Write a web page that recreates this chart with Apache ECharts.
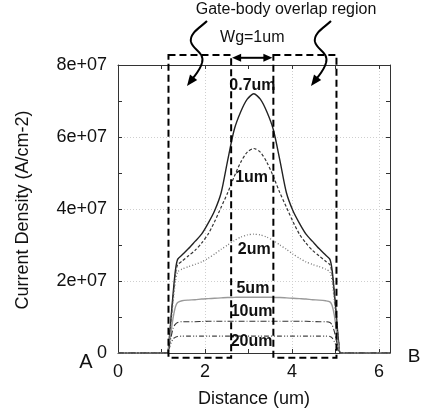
<!DOCTYPE html>
<html>
<head>
<meta charset="utf-8">
<script src="https://cdn.jsdelivr.net/npm/echarts@6/dist/echarts.min.js"></script>
<style>
  html, body { margin: 0; padding: 0; background: #fff; }
  #chart { width: 423px; height: 416px; }
</style>
</head>
<body>
<div id="chart"></div>
<script>
// distance along the channel (um)
const distance = [0, 1.12, 1.17, 1.22, 1.27, 1.32, 1.37, 1.47, 1.62, 1.77, 1.92, 2.07, 2.22, 2.37, 2.52, 2.67, 2.82, 2.97,
  3.12, 3.27, 3.42, 3.57, 3.72, 3.87, 4.02, 4.17, 4.32, 4.47, 4.62, 4.77, 4.87, 4.92, 4.97, 5.02, 5.07, 5.12, 6.25];

// current density, in units of 1e7 A/cm-2
const j07 = [0, 0, 0.3, 1.0, 1.7, 2.3, 2.6, 2.72, 2.9, 3.1, 3.3, 3.6, 3.95, 4.45, 5.35, 6.2, 6.7, 7.05,
  7.2, 7.05, 6.7, 6.2, 5.35, 4.45, 3.95, 3.6, 3.3, 3.1, 2.9, 2.72, 2.6, 2.3, 1.7, 1.0, 0.3, 0, 0];
const j1 = [0, 0, 0.3, 0.95, 1.6, 2.2, 2.45, 2.55, 2.7, 2.85, 3.05, 3.3, 3.65, 4.05, 4.45, 4.9, 5.3, 5.58,
  5.68, 5.58, 5.3, 4.9, 4.45, 4.05, 3.65, 3.3, 3.05, 2.85, 2.7, 2.55, 2.45, 2.2, 1.6, 0.95, 0.3, 0, 0];
const j2 = [0, 0, 0.2, 0.8, 1.45, 2.0, 2.25, 2.33, 2.4, 2.46, 2.53, 2.63, 2.75, 2.88, 3.0, 3.12, 3.22, 3.28,
  3.3, 3.28, 3.22, 3.12, 3.0, 2.88, 2.75, 2.63, 2.53, 2.46, 2.4, 2.33, 2.25, 2.0, 1.45, 0.8, 0.2, 0, 0];
const j5 = [0, 0, 0.2, 0.6, 1.0, 1.28, 1.4, 1.45, 1.47, 1.48, 1.5, 1.51, 1.52, 1.53, 1.54, 1.545, 1.55, 1.55,
  1.55, 1.55, 1.55, 1.545, 1.54, 1.53, 1.52, 1.51, 1.5, 1.48, 1.47, 1.45, 1.42, 1.32, 1.05, 0.6, 0.15, 0, 0];
const j10 = [0, 0, 0.15, 0.45, 0.7, 0.8, 0.85, 0.87, 0.87, 0.87, 0.875, 0.88, 0.88, 0.88, 0.88, 0.88, 0.88, 0.88,
  0.88, 0.88, 0.88, 0.88, 0.88, 0.88, 0.88, 0.88, 0.88, 0.875, 0.87, 0.87, 0.85, 0.78, 0.6, 0.33, 0.08, 0, 0];
const j20 = [0, 0, 0.1, 0.28, 0.4, 0.44, 0.46, 0.47, 0.47, 0.47, 0.47, 0.47, 0.47, 0.47, 0.47, 0.47, 0.47, 0.47,
  0.47, 0.47, 0.47, 0.47, 0.47, 0.47, 0.47, 0.47, 0.47, 0.47, 0.47, 0.47, 0.46, 0.42, 0.32, 0.18, 0.05, 0, 0];
const unit = 1e7;

const curveNames = ['0.7um', '1um', '2um', '5um', '10um', '20um'];
const curveValues = [j07, j1, j2, j5, j10, j20];
const curveStyles = [
  { color: '#222', width: 1.4, type: 'solid' },
  { color: '#333', width: 1.2, type: [3, 2] },
  { color: '#777', width: 1.3, type: [1, 2] },
  { color: '#9a9a9a', width: 1.4, type: 'solid' },
  { color: '#333', width: 1.1, type: [6, 2, 1, 2] },
  { color: '#444', width: 1.1, type: [5, 2, 1, 2, 1, 2] }
];

// curve label positions (distance, 1e7 A/cm-2)
const labelX = [3.09, 3.07, 3.13, 3.1, 3.07, 3.07];
const labelY = [7.44, 4.86, 2.86, 1.8, 1.15, 0.31];

// gate-body overlap boxes (distance) and box height limits (1e7 A/cm-2)
const overlapLeft = [1.16, 2.6];
const overlapRight = [3.57, 5.02];
const boxTop = 8.28;
const boxBottom = -0.13;
const arrowY = 8.2;

const font = "'Liberation Sans', Arial, sans-serif";
const chart = echarts.init(document.getElementById('chart'));

const xBase = { type: 'value', min: 0, max: 6.25 };
const yBase = { type: 'value', min: 0, max: 8 * unit };
const lineStyle = { color: '#333', width: 1 };

chart.setOption({
  animation: false,
  grid: { left: 118, right: 33, top: 65, bottom: 63 },
  xAxis: [
    Object.assign({}, xBase, {
      interval: 1,
      axisLine: { onZero: false, lineStyle },
      axisTick: { inside: true, length: 4, lineStyle },
      axisLabel: {
        margin: 10, fontSize: 18, color: '#111', fontFamily: font,
        formatter: v => (v % 2 === 0 ? String(v) : '')
      },
      splitLine: { show: false }
    }),
    Object.assign({}, xBase, {
      position: 'top', interval: 1,
      axisLine: { onZero: false, lineStyle },
      axisTick: { inside: true, length: 4, lineStyle },
      axisLabel: { show: false },
      splitLine: { show: false }
    }),
    Object.assign({}, xBase, {
      interval: 2,
      axisLine: { show: false }, axisTick: { show: false }, axisLabel: { show: false },
      splitLine: { show: true, lineStyle: { color: '#cfcfcf', type: [1, 2] } }
    })
  ],
  yAxis: [
    Object.assign({}, yBase, {
      interval: unit,
      axisLine: { onZero: false, lineStyle },
      axisTick: { inside: true, length: 4, lineStyle },
      axisLabel: {
        margin: 11, fontSize: 18, color: '#111', fontFamily: font,
        formatter: v => (v === 0 ? '0' : (v % (2 * unit) === 0 ? (v / unit) + 'e+07' : ''))
      },
      splitLine: { show: false }
    }),
    Object.assign({}, yBase, {
      position: 'right', interval: unit,
      axisLine: { onZero: false, lineStyle },
      axisTick: { inside: true, length: 4, lineStyle },
      axisLabel: { show: false },
      splitLine: { show: false }
    }),
    Object.assign({}, yBase, {
      interval: 2 * unit,
      axisLine: { show: false }, axisTick: { show: false }, axisLabel: { show: false },
      splitLine: { show: true, lineStyle: { color: '#cfcfcf', type: [1, 2] } }
    })
  ],
  series: curveNames.map((name, k) => ({
    name,
    type: 'line',
    xAxisIndex: 0,
    yAxisIndex: 0,
    showSymbol: false,
    smooth: 0.25,
    lineStyle: curveStyles[k],
    data: distance.map((x, i) => [x, curveValues[k][i] * unit])
  }))
});

const px = (x, y) => chart.convertToPixel({ xAxisIndex: 0, yAxisIndex: 0 }, [x, y * unit]);

function dashedBox(range) {
  const a = px(range[0], boxTop);
  const b = px(range[1], boxBottom);
  return {
    type: 'rect', z: 100,
    shape: { x: a[0], y: a[1], width: b[0] - a[0], height: b[1] - a[1] },
    style: { fill: 'none', stroke: '#000', lineWidth: 2, lineDash: [7, 4] }
  };
}

function text(str, x, y, size, bold, extra) {
  return Object.assign({
    type: 'text', z: 101, x, y,
    style: {
      text: str, fill: '#111', font: (bold ? 'bold ' : '') + size + 'px ' + font,
      align: 'center', verticalAlign: 'middle', textAlign: 'center', textVerticalAlign: 'middle'
    }
  }, extra || {});
}

// one curly arrow made of cubic segments, shifted by dx
function curl(dx) {
  const segs = [
    [207, 21, 201, 27, 189, 33, 191, 42],
    [191, 42, 193, 50, 205, 52, 202, 63],
    [202, 63, 200, 70, 196, 74, 193, 78]
  ];
  const out = segs.map(s => ({
    type: 'bezierCurve', z: 100,
    shape: { x1: s[0] + dx, y1: s[1], cpx1: s[2] + dx, cpy1: s[3], cpx2: s[4] + dx, cpy2: s[5], x2: s[6] + dx, y2: s[7] },
    style: { fill: null, stroke: '#000', lineWidth: 2 }
  }));
  out.push({
    type: 'polygon', z: 100,
    shape: { points: [[187 + dx, 86], [197.2 + dx, 79.9], [190 + dx, 74.5]] },
    style: { fill: '#000' }
  });
  return out;
}

const aL = px(overlapLeft[1], arrowY);
const aR = px(overlapRight[0], arrowY);

const graphics = [
  dashedBox(overlapLeft),
  dashedBox(overlapRight),
  // Wg double arrow
  { type: 'line', z: 100, shape: { x1: aL[0] + 6, y1: aL[1], x2: aR[0] - 6, y2: aR[1] }, style: { stroke: '#000', lineWidth: 2 } },
  { type: 'polygon', z: 100, shape: { points: [[aL[0] + 1, aL[1]], [aL[0] + 10, aL[1] - 4], [aL[0] + 10, aL[1] + 4]] }, style: { fill: '#000' } },
  { type: 'polygon', z: 100, shape: { points: [[aR[0] - 1, aR[1]], [aR[0] - 10, aR[1] - 4], [aR[0] - 10, aR[1] + 4]] }, style: { fill: '#000' } }
].concat(curl(0), curl(124), [
  text('Gate-body overlap region', 286, 10, 16, false),
  text('Wg=1um', (aL[0] + aR[0]) / 2, 38, 16, false),
  text('Current Density (A/cm-2)', 23, 210, 18, false, { rotation: Math.PI / 2 }),
  text('Distance (um)', 254, 399, 18, false),
  text('A', 86, 362, 20, false),
  text('B', 414, 357, 19, false)
]);

curveNames.forEach((name, k) => {
  const p = px(labelX[k], labelY[k]);
  graphics.push(text(name, p[0], p[1], 16, true, { z: 99 }));
});

chart.setOption({ graphic: graphics });
</script>
</body>
</html>
